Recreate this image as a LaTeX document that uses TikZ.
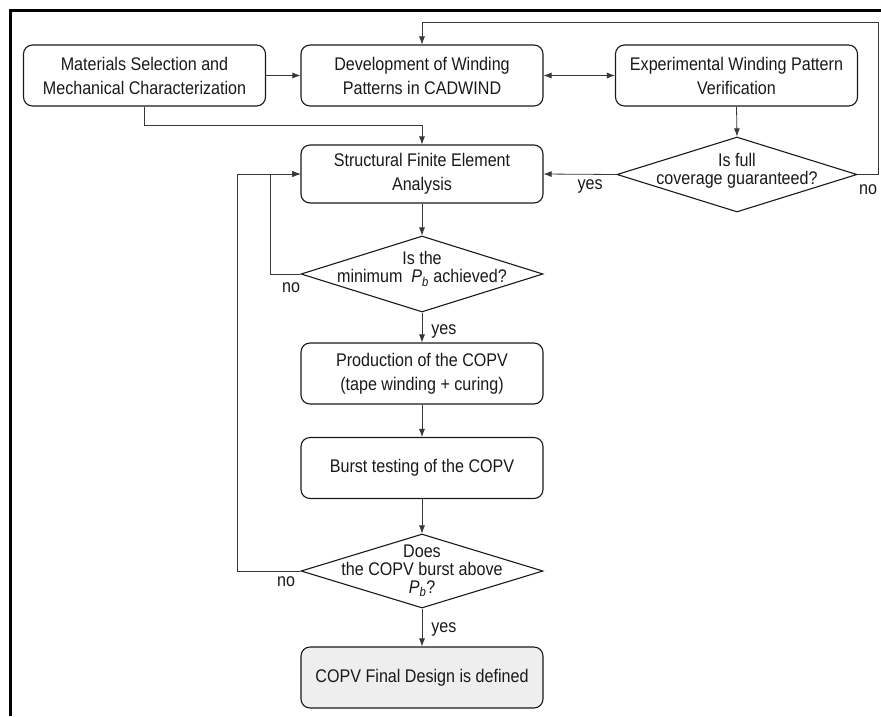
\documentclass[tikz,border=0pt]{standalone}
\usepackage{fontspec}
\setmainfont{Liberation Sans}[FakeStretch=0.88]
\usepackage{xcolor}
\usetikzlibrary{positioning,arrows.meta,calc,shapes.geometric}
\definecolor{ink}{RGB}{25,25,25}
\definecolor{wire}{RGB}{55,55,55}
\definecolor{finalfill}{RGB}{238,238,238}
\newcommand{\flowfont}{\fontsize{18.3}{24}\selectfont}
\newcommand{\askfont}{\fontsize{18.3}{18}\selectfont}
\newcommand{\Pb}{\textit{P}\textsubscript{\textit{b}}}
\tikzset{
  stepbox/.style={draw=ink, rounded corners=9pt, align=center, minimum width=242pt,
    minimum height=61pt, inner sep=2pt, font=\flowfont, text=ink, line width=1.1pt},
  finalbox/.style={stepbox, fill=finalfill},
  decision/.style={diamond, draw=ink, minimum width=242pt, minimum height=76pt,
    inner sep=0pt, line width=1.1pt},
  qtext/.style={align=center, font=\askfont, text=ink, inner sep=0pt},
  flow/.style={-{Latex[length=8pt,width=6pt]}, line width=0.8pt, draw=wire},
  flowboth/.style={{Latex[length=8pt,width=6pt]}-{Latex[length=8pt,width=6pt]},
    line width=0.8pt, draw=wire},
  tag/.style={font=\flowfont, text=ink, inner sep=0pt},
}

\begin{document}
\begin{tikzpicture}[x=1pt,y=-1pt]
  \useasboundingbox (0,0) rectangle (881,716);
  \draw[line width=3pt] (10,716) -- (10,10) -- (881,10);

  % top row
  \node[stepbox] (matsel) at (144.5,75.5) {Materials Selection and\\Mechanical Characterization};
  \node[stepbox] (cadwind) at (422,75.5) {Development of Winding\\Patterns in CADWIND};
  \node[stepbox] (expver) at (736.5,75.5) {Experimental Winding Pattern\\Verification};

  % main column
  \node[stepbox, minimum height=58pt] (fea) at (422,174) {Structural Finite Element\\Analysis};
  \node[decision, minimum width=240pt, minimum height=75pt] (cover) at (737,174.5) {};
  \node[qtext] (covertxt) at ([yshift=4pt]cover.center) {Is full\\coverage guaranteed?};
  \node[decision] (pbmin) at (422,274) {};
  \node[qtext] (pbmintxt) at ([yshift=5pt]pbmin.center) {Is the\\minimum\ \ \Pb\ achieved?};
  \node[stepbox] (prod) at (422,373.5) {Production of the COPV\\(tape winding + curing)};
  \node[stepbox] (burst) at (422,468) {Burst testing of the COPV};
  \node[decision, minimum height=74pt] (burstq) at (422,571) {};
  \node[qtext] (burstqtxt) at (burstq.center) {Does\\the COPV burst above\\\Pb?};
  \node[finalbox] (final) at (422,677.5) {COPV Final Design is defined};

  \coordinate (join) at (422,125);
  \coordinate (rtop) at (878,22);

  % connectors
  \draw[flow] (matsel) -- (cadwind);
  \draw[flowboth] (cadwind) -- (expver);
  \draw[flow] (expver.south) -- (cover.north);
  \draw[flow] (matsel.south) |- (join) -- (fea.north);
  \draw[flow] (cover.west) -- node[tag, pos=0.36, below=5pt] (yes1) {yes} (fea.east);
  \draw[flow] (cover.east) -| (rtop) -| (cadwind.north);
  \node[tag] (no1) at (868,190) {no};
  \draw[flow] (fea) -- (pbmin);
  \draw[flow] (pbmin.west) -- ++(-30,0) |- (fea.west);
  \node[tag] (no2) at (291,288) {no};
  \draw[flow] (pbmin.south) -- node[tag, right=9pt, yshift=-4pt] (yes2) {yes} (prod.north);
  \draw[flow] (prod) -- (burst);
  \draw[flow] (burst) -- (burstq.north);
  \draw[flow] (burstq.west) -- ++(-63,0) |- (fea.west);
  \node[tag] (no3) at (286,582) {no};
  \draw[flow] (burstq.south) -- node[tag, right=9pt, yshift=-2pt] (yes3) {yes} (final.north);
\end{tikzpicture}
\end{document}
